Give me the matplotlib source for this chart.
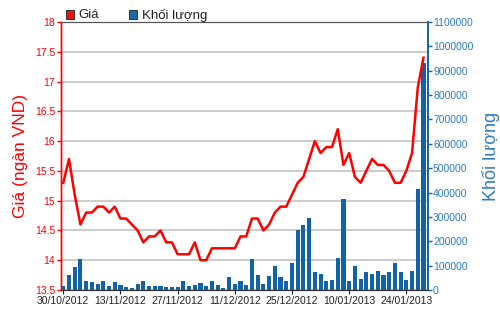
import matplotlib.pyplot as plt
import numpy as np
from matplotlib.patches import Rectangle

# Giá (ngàn VND) theo phiên
gia = [15.3, 15.7, 15.1, 14.6, 14.8, 14.8, 14.9, 14.9, 14.8, 14.9,
       14.7, 14.7, 14.6, 14.5, 14.3, 14.4, 14.4, 14.5, 14.3, 14.3,
       14.1, 14.1, 14.1, 14.3, 14.0, 14.0, 14.2, 14.2, 14.2, 14.2,
       14.2, 14.4, 14.4, 14.7, 14.7, 14.5, 14.6, 14.8, 14.9, 14.9,
       15.1, 15.3, 15.4, 15.7, 16.0, 15.8, 15.9, 15.9, 16.2, 15.6,
       15.8, 15.4, 15.3, 15.5, 15.7, 15.6, 15.6, 15.5, 15.3, 15.3,
       15.5, 15.8, 16.9, 17.4]

# Khối lượng giao dịch
khoi_luong = [15000, 62000, 96000, 128000, 39000, 31000, 25000, 36000, 17000, 32000,
              21000, 14000, 8000, 25000, 39000, 18000, 18000, 18000, 11000, 14000,
              14000, 36000, 17000, 21000, 30000, 17000, 35000, 21000, 10000, 53000,
              25000, 38000, 21000, 128000, 62000, 25000, 57000, 97000, 53000, 39000,
              110000, 245000, 268000, 296000, 73000, 65000, 35000, 42000, 131000, 372000,
              38000, 97000, 46000, 73000, 65000, 79000, 60000, 73000, 109000, 73000,
              42000, 79000, 416000, 930000]

ngay_ticks = ["30/10/2012", "13/11/2012", "27/11/2012", "11/12/2012",
              "25/12/2012", "10/01/2013", "24/01/2013"]

do = "#ff0000"
xanh = "#1262a6"
xanh_chu = "#2f7dbd"

plt.rcParams['font.family'] = ['Liberation Sans', 'DejaVu Sans']

fig = plt.figure(figsize=(5, 3.12), dpi=100)
ax = fig.add_axes([0.1214, 0.0705, 0.7336, 0.859])
x = np.arange(len(gia))

# truc gia (trai)
ax.set_xlim(-0.45, len(gia) - 0.3)
ax.set_ylim(13.5, 18)
ax.set_yticks(np.arange(13.5, 18.01, 0.5))
ax.set_yticklabels(["%g" % v for v in np.arange(13.5, 18.01, 0.5)])
ax.grid(axis='y', color='#cccccc', linewidth=1.4)
ax.set_axisbelow(True)
ax.tick_params(axis='y', colors=do, labelsize=7.5, length=3, width=1, pad=1)
ax.set_ylabel("Giá (ngàn VND)", color=do, fontsize=12.5, labelpad=5)
ax.set_xticks(np.arange(0, len(gia), 10))
ax.set_xticklabels(ngay_ticks)
ax.tick_params(axis='x', colors='#222222', labelsize=7.5, length=3, pad=1)

# truc khoi luong (phai)
ax2 = ax.twinx()
ax2.bar(x, khoi_luong, width=0.72, color=xanh)
ax2.set_ylim(0, 1100000)
ax2.set_yticks(np.arange(0, 1100001, 100000))
ax2.set_yticklabels(["%d" % v for v in np.arange(0, 1100001, 100000)])
ax2.tick_params(axis='y', colors=xanh_chu, labelsize=7.5, length=3, width=1, pad=1)
ax2.set_ylabel("Khối lượng", color=xanh_chu, fontsize=13, labelpad=6)
ax2.yaxis.label.set_rotation(90)

# duong gia ve tren cung
ax3 = ax.twinx()
ax3.plot(x, gia, color=do, linewidth=1.8)
ax3.set_ylim(ax.get_ylim())
ax3.axis('off')

for a in (ax, ax2):
    a.spines['left'].set_color(do)
    a.spines['right'].set_color(xanh)
    a.spines['top'].set_color('#555555')
    a.spines['bottom'].set_color('#333333')
    a.spines['left'].set_linewidth(1)
    a.spines['right'].set_linewidth(1.2)
ax.tick_params(axis='y', which='both', color=do)
ax2.tick_params(axis='y', which='both', color=xanh)

# chu giai
fig.patches.append(Rectangle((66 / 500, 1 - 19 / 312), 8 / 500, 9 / 312,
                             transform=fig.transFigure, facecolor='#ee1111',
                             edgecolor='#333333', linewidth=0.7))
fig.text(78 / 500, 1 - 15 / 312, "Giá", fontsize=9.5, va='center', color='#222222')
fig.patches.append(Rectangle((129 / 500, 1 - 19 / 312), 8 / 500, 9 / 312,
                             transform=fig.transFigure, facecolor='#1a6aa8',
                             edgecolor='#333333', linewidth=0.7))
fig.text(142 / 500, 1 - 15 / 312, "Khối lượng", fontsize=9.5, va='center', color='#222222')

fig.savefig("out.png", dpi=100)
